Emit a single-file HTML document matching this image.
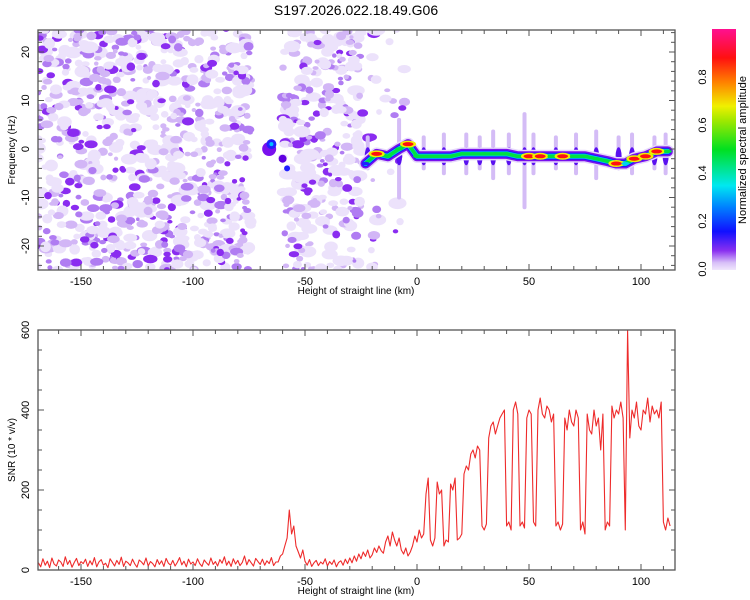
<!DOCTYPE html>
<html><head><meta charset="utf-8"><style>
html,body{margin:0;padding:0;background:#fff;}
svg{display:block;font-family:"Liberation Sans",sans-serif;}
</style></head><body>
<svg id="chart" width="750" height="600" xmlns="http://www.w3.org/2000/svg">
<defs>
<linearGradient id="cbg" x1="0" y1="1" x2="0" y2="0">
<stop offset="0" stop-color="#f0e6fc"/><stop offset="0.03" stop-color="#d8c0f8"/>
<stop offset="0.08" stop-color="#8a30f0"/><stop offset="0.16" stop-color="#1010ff"/>
<stop offset="0.26" stop-color="#0080ff"/><stop offset="0.35" stop-color="#00e8f0"/>
<stop offset="0.5" stop-color="#00e020"/><stop offset="0.62" stop-color="#a0e800"/>
<stop offset="0.68" stop-color="#f0f000"/><stop offset="0.78" stop-color="#ff8000"/>
<stop offset="0.88" stop-color="#ff1010"/><stop offset="1" stop-color="#ff1090"/>
</linearGradient>
<clipPath id="clipTop"><rect x="38" y="30" width="637" height="240"/></clipPath>
<clipPath id="clipBot"><rect x="38" y="330" width="637" height="240"/></clipPath>
</defs>
<text x="356" y="15" font-size="14" text-anchor="middle">S197.2026.022.18.49.G06</text>
<g id="spec" clip-path="url(#clipTop)"></g>
<g id="snr" clip-path="url(#clipBot)"></g>
<g id="axes"></g>
<rect x="712" y="29" width="24" height="241" fill="url(#cbg)"/>
<text transform="translate(746,150) rotate(-90)" font-size="11" text-anchor="middle">Normalized spectral amplitude</text>
</svg>
<script>
// ---- data ----
const snrStartKm = -169;
const snrValues = [
18,8,28,12,22,6,30,15,10,25,20,9,33,14,24,7,19,29,11,21,
16,27,9,23,13,31,8,20,26,12,17,6,28,19,10,24,14,32,9,22,
18,11,27,15,7,25,20,13,30,10,21,16,8,26,14,23,9,29,17,12,
24,10,19,31,13,22,8,27,15,20,11,28,16,9,25,18,12,30,14,21,
10,26,17,33,12,22,9,28,15,24,11,19,35,13,26,18,10,29,21,14,
27,12,23,16,31,11,20,20,35,40,60,80,150,90,110,60,45,30,50,
22,12,26,9,18,24,11,20,15,28,10,21,14,25,8,19,23,12,27,16,
30,18,35,22,40,28,45,34,50,30,38,55,44,60,48,42,70,85,60,95,
75,60,80,50,40,55,35,45,
60,85,70,100,80,90,190,230,75,60,80,220,190,200,60,75,70,215,200,230,
75,80,90,240,260,250,290,300,280,310,300,110,100,115,330,360,370,340,360,380,
390,400,110,120,100,400,420,390,110,120,105,380,400,390,120,110,400,430,390,380,
410,400,370,390,110,120,100,115,380,350,400,370,360,400,380,100,120,90,390,350,
340,400,360,380,300,390,100,120,110,410,380,400,390,420,380,100,600,330,400,380,
420,360,350,400,390,430,370,410,390,400,380,420,120,100,130,110
];
const ridgeKm   = [-23,-18,-13,-8,-4,0,5,10,15,20,25,30,35,40,45,50,55,60,65,70,75,80,85,89,93,97,102,107,112];
const ridgeFreq = [-3,-1,-1.5,0,1,-1.5,-1.5,-1.5,-1.5,-1,-1,-1,-1,-1,-1.5,-1.5,-1.5,-1.5,-1.5,-1.5,-1.5,-2,-2.5,-3,-3,-2,-1.5,-0.5,-0.5];
const ridgeAmp  = [0.3,0.9,0.5,0.6,0.9,0.5,0.55,0.5,0.5,0.6,0.55,0.6,0.55,0.5,0.55,0.9,0.9,0.6,0.9,0.6,0.6,0.5,0.55,0.9,0.4,0.9,0.9,0.9,0.55];
const smearKm   = [-22,-8,3,12,22,28,34,41,48,52,62,71,80,90,96,106,111];
const smearLen  = [4,10,4,5,5,4,6,5,12,5,4,5,6,4,5,4,5];
const xTicks = [-150,-100,-50,0,50,100];
const freqTicks = [20,10,0,-10,-20];
const snrTicks = [0,200,400,600];
const cbTicks = [0,0.2,0.4,0.6,0.8];

// ---- scales ----
const X = km => 417 + 2.24*km;
const YF = f => 149 - 4.85*f;
const YS = v => 570 - 0.4*v;
const YC = a => 269 - 240*a;
const NS = "http://www.w3.org/2000/svg";
function mk(tag, attrs, parent){const e=document.createElementNS(NS,tag);for(const k in attrs)e.setAttribute(k,attrs[k]);parent.appendChild(e);return e;}

// ---- texture (decorative noise, seeded) ----
let seed=12345;function rnd(){seed=(seed*1103515245+12345)%2147483648;return seed/2147483648;}
const spec=document.getElementById('spec');
function blobs(k0,k1,n){
  for(let i=0;i<n;i++){
    const km=k0+rnd()*(k1-k0), f=-25+rnd()*50;
    const t=rnd();
    const col=t<0.42?'#ece2fb':t<0.7?'#d2b6f6':t<0.88?'#b07cf2':'#8a2cf0';
    const r=t<0.42?2.5+rnd()*3.5:1.8+rnd()*2.6;
    const e=mk('ellipse',{cx:X(km),cy:YF(f),rx:r*(1+rnd()*0.7),ry:r,fill:col},spec);
    
    
  }
}
blobs(-170,-74,850);
blobs(-60,-25,300);
blobs(-25,-5,35);
[[-66,0,7,'#7a10ee'],[-65,1,5,'#2020ff'],[-65,1,2,'#00c0ff'],[-60,-2,4,'#6000e0'],[-58,-4,3,'#2020ff']].forEach(b=>{
  const e=mk('circle',{cx:X(b[0]),cy:YF(b[1]),r:b[2],fill:b[3]},spec);
  
  
});

// ---- smears ----
smearKm.forEach((k,i)=>{
  const l=mk('line',{x1:X(k),x2:X(k),y1:YF(smearLen[i]*0.6),y2:YF(-smearLen[i]),stroke:'#d4bcf6','stroke-width':4,'stroke-linecap':'round'},spec);
  
  
  const d=mk('ellipse',{cx:X(k),cy:YF(-1.5),rx:3,ry:9,fill:'#5a10f0'},spec);
  
  
});

// ---- ridge ----
function ampColor(a){return a>0.8?'#ff1010':a>0.62?'#f0f000':a>0.45?'#00e040':a>0.3?'#00d0f0':'#2020ff';}
const pts=ridgeKm.map((k,i)=>X(k)+','+YF(ridgeFreq[i])).join(' ');
[[13,'#e6d8fb'],[10,'#7a10ee'],[7,'#1818ff'],[5,'#00c8f0'],[3.5,'#00e040']].forEach(s=>{
  const p=mk('polyline',{points:pts,fill:'none',stroke:s[1],'stroke-width':s[0],'stroke-linejoin':'round','stroke-linecap':'round'},spec);
  
  
});
ridgeKm.forEach((k,i)=>{
  const a=ridgeAmp[i];
  if(a>0.8){
    const o=mk('ellipse',{cx:X(k),cy:YF(ridgeFreq[i]),rx:8,ry:3.5,fill:'#f0f000'},spec);
    
    
  }
  const e=mk('ellipse',{cx:X(k),cy:YF(ridgeFreq[i]),rx:a>0.8?5.5:4,ry:a>0.8?2:1.7,fill:ampColor(a)},spec);
  
  
});

// ---- SNR line ----
const snr=document.getElementById('snr');
const sp=snrValues.map((v,i)=>X(snrStartKm+i).toFixed(1)+','+YS(v).toFixed(1)).join(' ');
const line=mk('polyline',{points:sp,fill:'none',stroke:'#ee2b2b','stroke-width':1.1,'stroke-linejoin':'round'},snr);



// ---- axes ----
const ax=document.getElementById('axes');
function frame(y0,y1,name){
  const r=mk('rect',{x:38,y:y0,width:637,height:y1-y0,fill:'none',stroke:'#555','stroke-width':1.3},ax);
  
  
  for(let k=-160;k<=110;k+=10){
    const len=(k%50===0)?6:4;
    mk('line',{x1:X(k),x2:X(k),y1:y1,y2:y1-len,stroke:'#555'},ax);
    mk('line',{x1:X(k),x2:X(k),y1:y0,y2:y0+len,stroke:'#555'},ax);
  }
  xTicks.forEach(t=>{
    const tx=mk('text',{x:X(t),y:y1+15,'font-size':11,'text-anchor':'middle'},ax);
    tx.textContent=t;
    
    
  });
  const tl=mk('text',{x:356,y:y1+24,'font-size':10,'text-anchor':'middle'},ax);
  tl.textContent='Height of straight line (km)';
  
  
}
frame(30,270,'top-plot-frame');
frame(330,570,'bottom-plot-frame');
for(let f=-24;f<=24;f+=2){
  const len=(f%10===0)?6:4;
  mk('line',{x1:38,x2:38+len,y1:YF(f),y2:YF(f),stroke:'#555'},ax);
  mk('line',{x1:675,x2:675-len,y1:YF(f),y2:YF(f),stroke:'#555'},ax);
}
freqTicks.forEach(f=>{
  const t=mk('text',{transform:`translate(29,${YF(f)}) rotate(-90)`,'font-size':11,'text-anchor':'middle'},ax);
  t.textContent=f;
  
  
});
for(let v=0;v<=600;v+=50){
  const len=(v%200===0)?6:4;
  mk('line',{x1:38,x2:38+len,y1:YS(v),y2:YS(v),stroke:'#555'},ax);
  mk('line',{x1:675,x2:675-len,y1:YS(v),y2:YS(v),stroke:'#555'},ax);
}
snrTicks.forEach(v=>{
  const t=mk('text',{transform:`translate(29,${YS(v)}) rotate(-90)`,'font-size':11,'text-anchor':'middle'},ax);
  t.textContent=v;
  
  
});
const yt1=mk('text',{transform:'translate(15,150) rotate(-90)','font-size':10,'text-anchor':'middle'},ax);
yt1.textContent='Frequency (Hz)';


const yt2=mk('text',{transform:'translate(15,450) rotate(-90)','font-size':10,'text-anchor':'middle'},ax);
yt2.textContent='SNR (10 * v/v)';


cbTicks.forEach(a=>{
  const t=mk('text',{transform:`translate(706,${YC(a)}) rotate(-90)`,'font-size':11,'text-anchor':'middle'},ax);
  t.textContent=a.toFixed(1);
  
  
});
</script>
</body></html>
